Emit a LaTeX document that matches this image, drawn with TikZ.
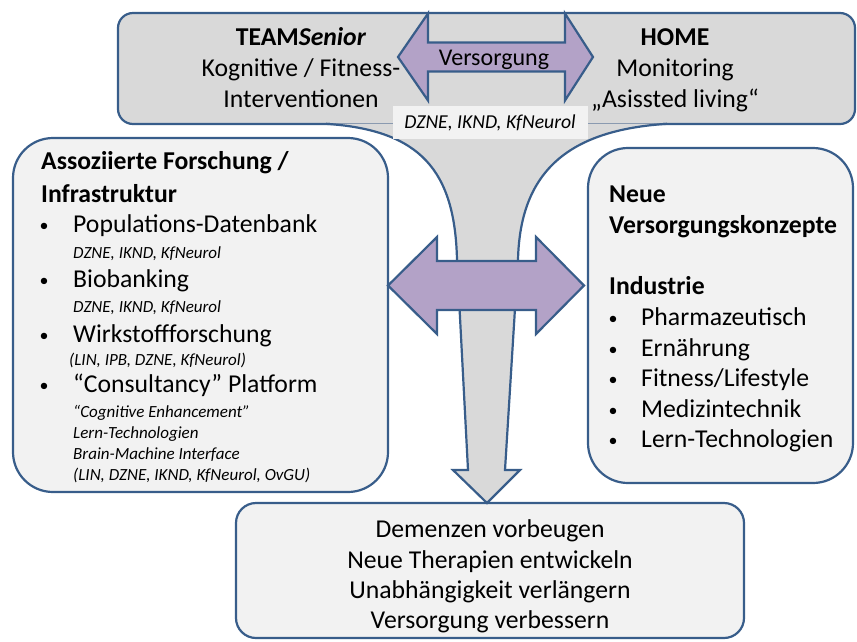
\documentclass[tikz,border=0pt]{standalone}
\usepackage{fontspec}
\setmainfont{Carlito}
\definecolor{oline}{HTML}{385D8A}
\definecolor{topgrey}{HTML}{D9D9D9}
\definecolor{lightbox}{HTML}{F2F2F2}
\definecolor{purp}{HTML}{B3A2C7}
\definecolor{thinline}{HTML}{8A9AB0}
\tikzset{
  boxline/.style={draw=oline, line width=2.2pt},
  big/.style={font=\fontsize{25.7}{30}\selectfont, inner sep=0pt, anchor=base},
  bigl/.style={font=\fontsize{25.7}{30}\selectfont, inner sep=0pt, anchor=base west},
  head/.style={font=\fontsize{25.7}{30}\selectfont\bfseries, inner sep=0pt, anchor=base west},
  small/.style={font=\fontsize{17}{20}\selectfont\itshape, inner sep=0pt, anchor=base west},
  bul/.style={font=\fontsize{18}{20}\selectfont, inner sep=0pt, anchor=base west},
}
\begin{document}
\begin{tikzpicture}[x=1pt,y=-1pt]
\useasboundingbox (0,0) rectangle (857,641);
% boxes
\node[boxline, fill=topgrey, rounded corners=15pt, minimum width=737pt, minimum height=111pt] (topbox) at (486.5,68.5) {};
\node[boxline, fill=lightbox, rounded corners=40pt, minimum width=375pt, minimum height=354pt] (leftbox) at (200.5,315) {};
\node[boxline, fill=lightbox, rounded corners=40pt, minimum width=265pt, minimum height=335pt] (rightbox) at (720.5,315.5) {};
\node[boxline, fill=lightbox, rounded corners=20pt, minimum width=508pt, minimum height=135pt] (botbox) at (490,570.5) {};
% funnel + down arrow
\fill[topgrey] (330,120) -- (330,124) .. controls (420,130) and (455,170) .. (457,260) -- (468,470) -- (453,470) -- (487,503) -- (520,470) -- (505,470) -- (518,260) .. controls (520,170) and (570,130) .. (663,124) -- (663,120) -- cycle;
\draw[thinline, line width=0.8pt] (330,123.5) -- (663,123.5);
\draw[boxline, line join=miter] (326,123.8) .. controls (420,130) and (455,170) .. (457,260) -- (468,470) -- (453,470) -- (487,503) -- (520,470) -- (505,470) -- (518,260) .. controls (520,170) and (570,130) .. (667,123.8);
% purple double arrows
\draw[boxline, fill=purp, line join=miter] (398,57) -- (428,13.5) -- (428,42.5) -- (565,42.5) -- (565,13.5) -- (593,57) -- (565,100.5) -- (565,71.5) -- (428,71.5) -- (428,100.5) -- cycle;
\draw[boxline, fill=purp, line join=miter] (388,285.5) -- (437,237) -- (437,261) -- (536,261) -- (536,237) -- (584,285.5) -- (536,334) -- (536,310) -- (437,310) -- (437,334) -- cycle;
% top texts
\node[big] (t1) at (301,45) {\textbf{TEAM\textit{Senior}}};
\node[big] (t2) at (301,76) {Kognitive / Fitness-};
\node[big] (t3) at (301,107) {Interventionen};
\node[big] (h1) at (675,45) {\textbf{HOME}};
\node[big] (h2) at (675,76) {Monitoring};
\node[big] (h3) at (675,107) {„Asissted living“};
\node[big, font=\fontsize{24}{28}\selectfont] (vers) at (494,65) {Versorgung};
\node[fill=lightbox, minimum width=195pt, minimum height=33pt, inner sep=0pt, font=\fontsize{19.7}{22}\selectfont\itshape] (lab) at (490,122.5) {DZNE, IKND, KfNeurol};
% left box texts
\node[head] (l1) at (41,169) {Assoziierte Forschung /};
\node[head] (l2) at (41,202) {Infrastruktur};
\node[bul] (lb1) at (39.5,231) {•};
\node[bigl] (l3) at (73,232) {Populations-Datenbank};
\node[small] (l4) at (73,258) {DZNE, IKND, KfNeurol};
\node[bul] (lb2) at (39.5,286) {•};
\node[bigl] (l5) at (73,287) {Biobanking};
\node[small] (l6) at (73,312) {DZNE, IKND, KfNeurol};
\node[bul] (lb3) at (39.5,341) {•};
\node[bigl] (l7) at (73,342) {Wirkstoffforschung};
\node[small] (l8) at (69,365) {(LIN, IPB, DZNE, KfNeurol)};
\node[bul] (lb4) at (39.5,391) {•};
\node[bigl] (l9) at (73,392) {“Consultancy” Platform};
\node[small] (l10) at (73,417) {“Cognitive Enhancement”};
\node[small] (l11) at (73,438) {Lern-Technologien};
\node[small] (l12) at (73,459) {Brain-Machine Interface};
\node[small] (l13) at (73,480) {(LIN, DZNE, IKND, KfNeurol, OvGU)};
% right box texts
\node[head] (r1) at (609,202) {Neue};
\node[head] (r2) at (609,233) {Versorgungskonzepte};
\node[head] (r3) at (609,294) {Industrie};
\node[bul] (rb1) at (608.5,324) {•};
\node[bigl] (r4) at (641,325) {Pharmazeutisch};
\node[bul] (rb2) at (608.5,355) {•};
\node[bigl] (r5) at (641,356) {Ernährung};
\node[bul] (rb3) at (608.5,385) {•};
\node[bigl] (r6) at (641,386) {Fitness/Lifestyle};
\node[bul] (rb4) at (608.5,416) {•};
\node[bigl] (r7) at (641,417) {Medizintechnik};
\node[bul] (rb5) at (608.5,446) {•};
\node[bigl] (r8) at (641,447) {Lern-Technologien};
% bottom box texts
\node[big] (b1) at (490,537) {Demenzen vorbeugen};
\node[big] (b2) at (490,568) {Neue Therapien entwickeln};
\node[big] (b3) at (490,598) {Unabhängigkeit verlängern};
\node[big] (b4) at (490,628) {Versorgung verbessern};
\end{tikzpicture}
\end{document}
